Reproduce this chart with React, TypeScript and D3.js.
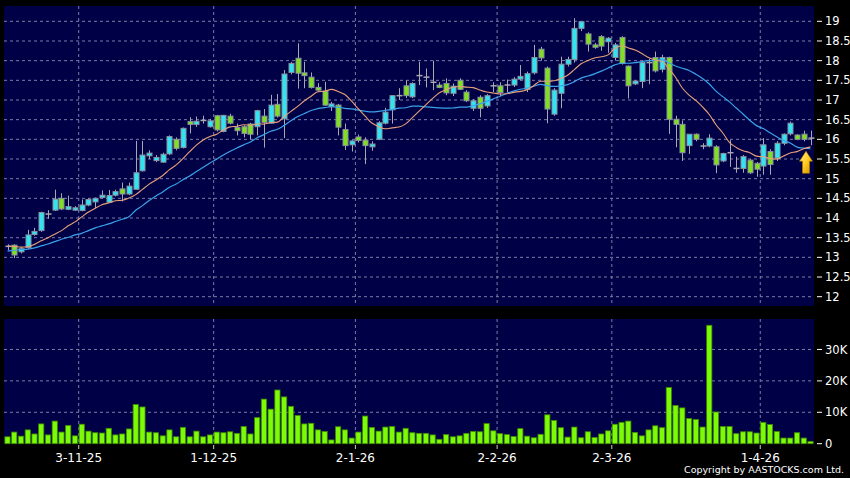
import React from "react";
import * as d3 from "d3";

// ---- data ----
const opens = [13.28,13.31,13.14,13.25,13.58,13.68,14.1,14.2,14.5,14.22,14.2,14.19,14.33,14.41,14.52,14.4,14.58,14.74,14.61,14.73,
15.2,15.58,15.46,15.42,15.63,16.0,15.79,16.45,16.38,16.48,16.32,16.6,16.2,16.59,16.3,16.32,16.39,16.32,16.59,16.41,
16.89,16.52,17.7,18.06,17.69,17.58,17.32,17.23,16.83,16.87,16.25,15.86,16.06,15.98,15.81,16.0,16.41,16.75,17.11,17.36,
17.08,17.62,17.58,17.45,17.38,17.42,17.17,17.5,17.2,16.79,17.07,16.85,17.36,17.36,17.38,17.38,17.53,17.27,17.69,18.29,
17.81,16.64,17.17,17.91,18.03,18.82,18.68,18.4,18.61,18.48,18.08,18.59,17.86,17.41,17.47,17.95,18.08,17.78,18.08,16.51,
16.38,15.84,16.13,15.83,15.83,15.81,15.45,15.66,15.26,15.26,15.47,15.39,15.32,15.69,15.52,15.9,16.14,16.11,16.13,16.03];
const highs = [13.33,13.33,13.26,13.7,13.75,14.16,14.2,14.72,14.63,14.57,14.3,14.47,14.5,14.52,14.7,14.71,14.72,14.9,14.9,15.96,
15.96,15.72,15.6,15.66,16.1,16.05,16.3,16.56,16.58,16.6,16.52,16.62,16.62,16.65,16.4,16.36,16.42,16.75,16.77,17.13,
17.15,17.76,17.97,18.44,17.97,17.7,17.43,17.46,16.95,16.9,16.4,15.98,16.12,16.05,15.95,16.46,16.8,17.12,17.3,17.5,
17.45,17.97,17.8,18.0,17.45,17.55,17.42,17.55,17.25,17.02,17.12,17.15,17.45,17.45,17.52,17.58,17.89,17.72,18.4,18.35,
17.85,17.3,18.1,18.1,19.08,19.0,18.72,18.45,18.65,18.6,18.45,18.62,17.88,17.5,18.0,18.05,18.23,18.15,18.1,16.6,
16.48,16.13,16.15,15.9,16.13,15.85,15.66,15.98,15.56,15.6,15.5,15.42,16.03,15.75,15.95,16.15,16.45,16.13,16.22,16.22];
const lows = [13.18,12.98,13.1,13.22,13.55,13.65,13.98,14.18,14.2,14.2,14.18,14.17,14.3,14.25,14.5,14.38,14.55,14.42,14.58,14.72,
15.18,15.5,15.42,15.4,15.6,15.72,15.77,16.15,16.32,16.4,16.3,16.2,16.18,16.38,16.1,16.05,16.0,16.1,15.79,16.4,
16.55,16.03,17.65,17.29,17.3,17.29,17.2,16.85,16.72,16.1,15.73,15.69,15.92,15.37,15.71,15.98,16.38,16.4,17.0,17.05,
17.05,17.38,17.32,17.25,17.3,17.12,17.1,17.25,16.95,16.72,16.56,16.8,17.2,17.1,17.2,17.33,17.5,17.2,17.65,18.0,
16.41,16.6,16.79,17.85,17.95,18.75,18.23,18.3,18.25,18.2,18.0,17.9,17.04,17.38,17.3,17.4,17.7,17.7,16.14,15.8,
15.45,15.63,15.95,15.75,15.8,15.14,15.42,15.3,15.15,15.15,15.12,15.05,15.1,15.1,15.45,15.85,16.1,15.98,15.95,15.85];
const closes = [13.28,13.06,13.22,13.57,13.66,14.14,14.1,14.48,14.23,14.29,14.26,14.33,14.47,14.5,14.58,14.57,14.67,14.61,14.81,15.15,
15.6,15.65,15.54,15.62,16.07,15.77,16.28,16.38,16.46,16.48,16.47,16.24,16.61,16.41,16.22,16.15,16.13,16.73,16.43,16.87,
16.59,17.66,17.93,17.68,17.62,17.32,17.25,16.87,16.9,16.31,15.84,15.96,15.97,15.84,15.88,16.42,16.69,17.11,17.11,17.11,
17.42,17.62,17.58,17.45,17.32,17.18,17.35,17.27,16.98,16.98,16.79,17.11,17.36,17.19,17.38,17.53,17.6,17.67,18.08,18.07,
16.77,17.25,17.91,18.03,18.82,18.99,18.42,18.34,18.37,18.57,18.4,17.93,17.36,17.48,17.95,17.95,17.74,18.08,16.51,16.38,
15.66,16.13,16.0,15.83,16.03,15.35,15.64,15.66,15.26,15.56,15.15,15.24,15.86,15.36,15.9,16.13,16.41,16.0,16.0,16.03];
const volumesK = [2.2,3.7,2.4,4.4,3.1,6.3,2.8,7.2,3.7,5.8,2.5,6.2,4.0,3.5,3.4,4.9,2.8,3.1,4.7,12.5,
11.7,3.7,3.5,2.5,4.4,2.2,5.2,2.2,4.0,2.2,2.8,3.7,3.5,3.8,3.3,5.5,3.1,8.3,14.2,11.0,
17.1,14.9,11.9,9.0,6.3,6.5,4.4,3.9,1.2,5.4,4.4,1.8,3.7,8.8,5.2,4.0,5.3,5.5,3.7,4.9,
3.5,3.3,3.3,2.8,1.4,2.9,2.2,2.5,3.3,3.9,3.8,6.4,4.1,3.2,2.9,2.3,4.8,2.4,1.9,3.0,
9.2,7.4,5.1,2.1,5.3,1.9,3.8,2.0,3.1,4.1,6.2,6.8,7.2,3.6,2.5,4.4,5.7,5.1,17.9,12.2,
11.4,8.0,7.7,5.3,37.7,10.1,5.5,5.5,3.2,3.8,3.8,3.4,6.8,6.1,3.9,1.8,1.8,3.5,1.8,0.7];
// moving-average values before the window fills
const ma10Head = [13.29,13.28,13.26,13.27,13.33,13.42,13.5,13.59,13.68];
const ma20Head = [13.16,13.18,13.2,13.21,13.24,13.29,13.34,13.4,13.46,13.51,13.57,13.61,13.68,13.75,13.8,13.85,13.91,13.97,14.03];
const dateLabels = ["3-11-25","1-12-25","2-1-26","2-2-26","2-3-26","1-4-26"];
const dateIndex = [11,31,52,73,90,112];
const priceTicks = [12,12.5,13,13.5,14,14.5,15,15.5,16,16.5,17,17.5,18,18.5,19];
const volTicks = [0,10000,20000,30000];
const volTickLabels = ["0","10K","20K","30K"];

function sma(period: number, head: number[]) {
  return closes.map((_, i) =>
    i < period - 1 ? head[i] : (d3.mean(closes.slice(i - period + 1, i + 1)) as number)
  );
}

export default function App() {
  const N = closes.length;
  const x = d3.scaleLinear().domain([0, N - 1]).range([7.5, 810.5]);
  const y = d3.scaleLinear().domain([12, 19]).range([296.7, 21.3]);
  const yv = d3.scaleLinear().domain([0, 39700]).range([443.7, 319]);
  const pL = 4, pR = 814, pT = 6, pB = 306;
  const vT = 319, vB = 444;
  const bodyW = 5;
  const CYAN = "#30e4f2", GREEN = "#80e020", NAVY = "#000046";
  const grid = "#7c7ca8";
  const ma10 = sma(10, ma10Head);
  const ma20 = sma(20, ma20Head);
  const line = d3.line<number>().x((_, i) => x(i)).y((d) => y(d)).curve(d3.curveMonotoneX);
  const font = "'DejaVu Sans', sans-serif";
  const ax = 810.5 - 4.5;
  const tipY = y(lows[N - 1]) + 6;

  return (
    <svg width={850} height={478} style={{ position: "absolute", left: 0, top: 0, display: "block" }}>
      <defs>
        <linearGradient id="arrowG" x1="0" y1="0" x2="1" y2="1">
          <stop offset="0" stopColor="#fff2a0" />
          <stop offset="0.5" stopColor="#ffcc20" />
          <stop offset="1" stopColor="#d08a00" />
        </linearGradient>
      </defs>
      <rect x={0} y={0} width={850} height={478} fill="#000" />
      <rect x={pL} y={pT} width={pR - pL} height={pB - pT} fill={NAVY} />
      <rect x={pL} y={vT} width={pR - pL} height={vB - vT} fill={NAVY} />
      {/* price grid */}
      {priceTicks.map((t) => (
        <line key={"pg" + t} x1={pL} x2={pR} y1={y(t)} y2={y(t)} stroke={grid} strokeWidth={1} strokeDasharray="3,3" />
      ))}
      {dateIndex.map((di) => (
        <g key={"vg" + di}>
          <line x1={x(di) - 3} x2={x(di) - 3} y1={pT} y2={pB} stroke={grid} strokeWidth={1} strokeDasharray="3,3" />
          <line x1={x(di) - 3} x2={x(di) - 3} y1={vT} y2={vB} stroke={grid} strokeWidth={1} strokeDasharray="3,3" />
        </g>
      ))}
      {volTicks.slice(1).map((t) => (
        <line key={"vgh" + t} x1={pL} x2={pR} y1={yv(t)} y2={yv(t)} stroke={grid} strokeWidth={1} strokeDasharray="3,3" />
      ))}
      {/* candles */}
      {closes.map((c, i) => {
        const o = opens[i];
        const up = c > o;
        const flat = Math.abs(c - o) < 0.005;
        const cx = Math.round(x(i)) + 0.5;
        const top = y(Math.max(o, c));
        const bot = y(Math.min(o, c));
        return (
          <g key={"c" + i}>
            <line x1={cx} x2={cx} y1={y(highs[i])} y2={y(lows[i])} stroke="#a8a8b0" strokeWidth={1} />
            {flat ? (
              <line x1={cx - 3} x2={cx + 3} y1={y(c)} y2={y(c)} stroke="#a8a8b0" strokeWidth={1.5} />
            ) : (
              <rect x={cx - bodyW / 2} y={top} width={bodyW} height={Math.max(bot - top, 2)}
                fill={up ? CYAN : GREEN} stroke="#8890a0" strokeWidth={1} />
            )}
          </g>
        );
      })}
      {/* moving averages */}
      <path d={line(ma20) || ""} fill="none" stroke="#3aa2ea" strokeWidth={1.2} />
      <path d={line(ma10) || ""} fill="none" stroke="#e8a07a" strokeWidth={1.1} />
      {/* arrow */}
      <path
        d={`M${ax},${tipY} L${ax + 6.5},${tipY + 10} L${ax + 3.5},${tipY + 10} L${ax + 3.5},${tipY + 22} L${ax - 3.5},${tipY + 22} L${ax - 3.5},${tipY + 10} L${ax - 6.5},${tipY + 10} Z`}
        fill="url(#arrowG)" stroke="#b07800" strokeWidth={0.6}
      />
      {/* volume */}
      {volumesK.map((v, i) => (
        <rect key={"v" + i} x={x(i) - 2.6} y={yv(v * 1000)} width={5.2} height={yv(0) - yv(v * 1000)}
          fill="#7dfa08" stroke="#3e8a00" strokeWidth={0.8} />
      ))}
      {/* right axes */}
      {priceTicks.map((t) => (
        <g key={"pt" + t}>
          <line x1={817} x2={822} y1={y(t)} y2={y(t)} stroke="#fff" strokeWidth={1} />
          <text x={825} y={y(t)} dy="0.36em" fill="#fff" fontSize={11.5} fontFamily={font}>{String(t)}</text>
        </g>
      ))}
      {volTicks.map((t, k) => (
        <g key={"vt" + t}>
          <line x1={817} x2={822} y1={yv(t)} y2={yv(t)} stroke="#fff" strokeWidth={1} />
          <text x={825} y={yv(t)} dy="0.36em" fill="#fff" fontSize={11.5} fontFamily={font}>{volTickLabels[k]}</text>
        </g>
      ))}
      {/* date axis */}
      {dateIndex.map((di, k) => (
        <g key={"dt" + di}>
          <line x1={x(di) - 3} x2={x(di) - 3} y1={445} y2={449} stroke="#ccc" strokeWidth={1} />
          <text x={x(di) - 3} y={462} textAnchor="middle" fill="#fff" fontSize={12} fontFamily={font}>{dateLabels[k]}</text>
        </g>
      ))}
      <text x={844} y={473} textAnchor="end" fill="#fff" fontSize={9.5} fontFamily={font}>Copyright by AASTOCKS.com Ltd.</text>
    </svg>
  );
}
